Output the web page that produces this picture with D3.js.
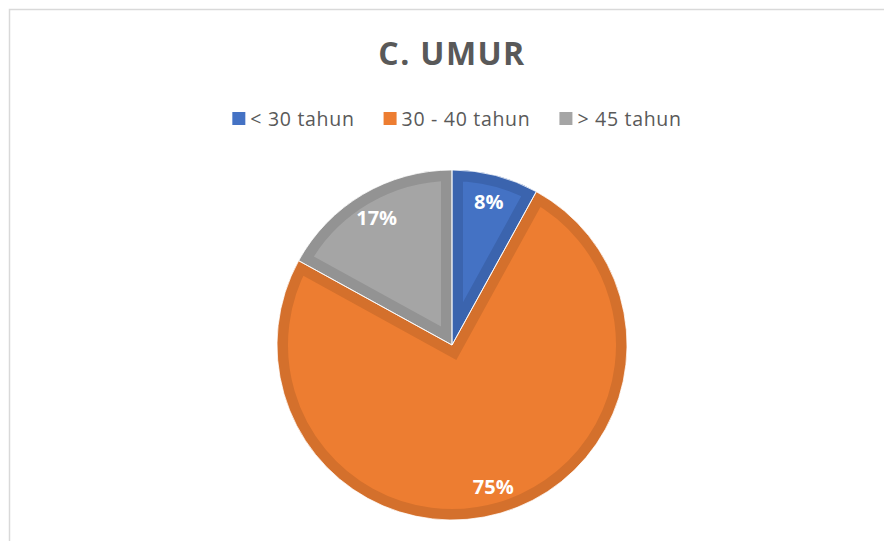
<!DOCTYPE html>
<html>
<head>
<meta charset="utf-8">
<script src="https://cdn.jsdelivr.net/npm/d3@7"></script>
<style>
  body { margin: 0; background: #fff; }
  svg { display: block; font-family: "Open Sans", sans-serif; }
</style>
</head>
<body>
<div id="chart"></div>
<script>
var width = 884;
var height = 541;

// data
var categories = ["< 30 tahun", "30 - 40 tahun", "> 45 tahun"];
var values = [8, 75, 17];
var fills = ["#4472C4", "#ED7D31", "#A5A5A5"];
var edges = ["#3B64AE", "#D4702C", "#939393"];

var cx = 452, cy = 345, radius = 175;
var edgeWidth = 11;

var svg = d3.select("#chart")
    .append("svg")
    .attr("width", width)
    .attr("height", height)

// chart frame
svg.append("rect")
    .attr("x", 9.5)
    .attr("y", 9.5)
    .attr("width", width + 20)
    .attr("height", height + 20)
    .attr("fill", "none")
    .attr("stroke", "#D9D9D9")
    .attr("stroke-width", 1.5)

svg.append("text")
    .attr("x", 452)
    .attr("y", 65)
    .attr("text-anchor", "middle")
    .attr("font-size", 32)
    .attr("font-weight", "bold")
    .attr("letter-spacing", 1.4)
    .attr("fill", "#595959")
    .text("C. UMUR")

// legend
var legend = svg.append("g").attr("class", "legend")
var items = legend.selectAll("g")
    .data(categories)
    .enter()
    .append("g")

items.append("rect")
    .attr("y", 112)
    .attr("width", 13)
    .attr("height", 13)
    .attr("fill", function (d, i) { return fills[i]; })

items.append("text")
    .attr("x", 18)
    .attr("y", 125.5)
    .attr("font-size", 19.5)
    .attr("letter-spacing", 0.7)
    .attr("fill", "#595959")
    .text(function (d) { return d; })

var x = 0;
var widths = [];
items.each(function () { widths.push(this.getBBox().width); });
var total = d3.sum(widths) + 29 * (widths.length - 1);
x = 457 - total / 2;
items.attr("transform", function (d, i) {
    var t = "translate(" + x + ",0)";
    x += widths[i] + 29;
    return t;
})

// pie
var pie = d3.pie().sort(null).value(function (d) { return d; });
var arcs = pie(values);
var arc = d3.arc().innerRadius(0).outerRadius(radius);
var labelArc = d3.arc().innerRadius(148).outerRadius(148);

var g = svg.append("g").attr("transform", "translate(" + cx + "," + cy + ")")
var defs = svg.append("defs")

defs.selectAll("clipPath")
    .data(arcs)
    .enter()
    .append("clipPath")
    .attr("id", function (d, i) { return "slice" + i; })
    .append("path")
    .attr("d", arc)

g.selectAll(".slice")
    .data(arcs)
    .enter()
    .append("path")
    .attr("class", "slice")
    .attr("d", arc)
    .attr("fill", function (d, i) { return fills[i]; })
    .attr("stroke", function (d, i) { return edges[i]; })
    .attr("stroke-width", edgeWidth * 2)
    .attr("stroke-linejoin", "miter")
    .attr("clip-path", function (d, i) { return "url(#slice" + i + ")"; })

// thin white separators
g.selectAll(".sep")
    .data(arcs)
    .enter()
    .append("path")
    .attr("class", "sep")
    .attr("d", arc)
    .attr("fill", "none")
    .attr("stroke", "#fff")
    .attr("stroke-width", 0.8)

g.selectAll(".label")
    .data(arcs)
    .enter()
    .append("text")
    .attr("class", "label")
    .attr("transform", function (d) { return "translate(" + labelArc.centroid(d) + ")"; })
    .attr("text-anchor", "middle")
    .attr("dy", "0.36em")
    .attr("font-size", 20)
    .attr("font-weight", "bold")
    .attr("fill", "#fff")
    .text(function (d) { return d.data + "%"; })
</script>
</body>
</html>
